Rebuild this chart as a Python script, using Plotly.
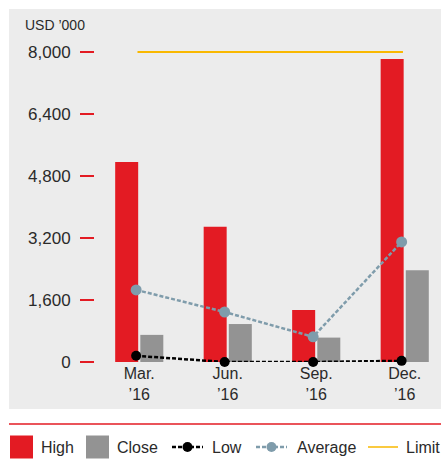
import plotly.graph_objects as go

# Quarterly share price data (USD '000)
quarters = ["Mar.<br>’16", "Jun.<br>’16", "Sep.<br>’16", "Dec.<br>’16"]
high = [5160, 3490, 1340, 7820]
close = [700, 980, 630, 2370]
low = [160, 0, 0, 30]
average = [1860, 1290, 650, 3100]
limit = [8000, 8000, 8000, 8000]
y_ticks = [0, 1600, 3200, 4800, 6400, 8000]

RED = "#e31b23"
GREY = "#939393"
BLUEGREY = "#7f9cab"
GOLD = "#f9b800"
TEXT = "#2a2a2a"
FONT = "Liberation Sans"

xs = list(range(len(quarters)))
xl = [x - 0.035 for x in xs]

fig = go.Figure()
fig.add_trace(go.Bar(x=xs, y=high, width=0.26, offset=-0.272, marker=dict(color=RED, line_width=0),
                     name="High", showlegend=False))
fig.add_trace(go.Bar(x=xs, y=close, width=0.26, offset=0.012, marker=dict(color=GREY, line_width=0),
                     name="Close", showlegend=False))
fig.add_trace(go.Scatter(x=[x - 0.02 for x in xs], y=limit, mode="lines",
                         line=dict(color=GOLD, width=2), name="Limit", showlegend=False))
fig.add_trace(go.Scatter(x=xl, y=average, mode="lines+markers",
                         line=dict(color=BLUEGREY, width=2.5, dash="4px,2px"),
                         marker=dict(color=BLUEGREY, size=11), name="Average",
                         showlegend=False, cliponaxis=False))
fig.add_trace(go.Scatter(x=xl, y=low, mode="lines+markers",
                         line=dict(color="black", width=2.5, dash="4px,2px"),
                         marker=dict(color="black", size=10), name="Low",
                         showlegend=False, cliponaxis=False))

# pixel geometry helpers (plot area: x 95..441, y 40..362)
L, R, T, B = 95, 0, 40, 101
W, H = 441, 463
pw, ph = W - L - R, H - T - B


def px(x):
    return (x - L) / pw


def py(y):
    return (H - B - y) / ph


shapes = [
    # grey panel behind the chart
    dict(type="rect", xref="paper", yref="paper", x0=px(9), x1=px(441), y0=py(409), y1=py(9),
         fillcolor="#ececec", line_width=0, layer="below"),
    # red rule above legend
    dict(type="line", xref="paper", yref="paper", x0=px(9), x1=px(441), y0=py(424), y1=py(424),
         line=dict(color=RED, width=1.5)),
]

annotations = [
    dict(text="USD ’000", xref="paper", yref="paper", x=px(23), y=py(25), xanchor="left",
         yanchor="middle", showarrow=False, font=dict(family=FONT, size=14, color=TEXT)),
]

# legend row
ly = 447
legend_items = [
    ("box", RED, 10, "High", 39),
    ("box", GREY, 86, "Close", 115),
    ("marker", "black", 172, "Low", 210),
    ("marker", BLUEGREY, 256, "Average", 295),
    ("line", GOLD, 368, "Limit", 404),
]
for kind, col, x0, label, tx in legend_items:
    if kind == "box":
        shapes.append(dict(type="rect", xref="paper", yref="paper", x0=px(x0), x1=px(x0 + 23),
                           y0=py(ly + 11.5), y1=py(ly - 11.5), fillcolor=col, line_width=0))
    elif kind == "marker":
        shapes.append(dict(type="line", xref="paper", yref="paper", x0=px(x0), x1=px(x0 + 31),
                           y0=py(ly), y1=py(ly), line=dict(color=col, width=2.5, dash="4px,2px")))
        shapes.append(dict(type="circle", xref="paper", yref="paper", x0=px(x0 + 10.5), x1=px(x0 + 20.5),
                           y0=py(ly + 5), y1=py(ly - 5), fillcolor=col, line_width=0))
    else:
        shapes.append(dict(type="line", xref="paper", yref="paper", x0=px(x0), x1=px(x0 + 30),
                           y0=py(ly), y1=py(ly), line=dict(color=col, width=1.5)))
    annotations.append(dict(text=label, xref="paper", yref="paper", x=px(tx), y=py(ly),
                            xanchor="left", yanchor="middle", showarrow=False,
                            font=dict(family=FONT, size=16, color=TEXT)))

fig.update_layout(
    width=W, height=H,
    margin=dict(l=L, r=R, t=T, b=B, pad=0),
    paper_bgcolor="white",
    plot_bgcolor="rgba(0,0,0,0)",
    showlegend=False,
    shapes=shapes,
    annotations=annotations,
    font=dict(family=FONT, color=TEXT),
)
fig.update_xaxes(
    range=[-0.5, 3.41], tickvals=xs, ticktext=quarters, showgrid=False, zeroline=False,
    showline=False, ticks="", tickfont=dict(size=16, color=TEXT, family=FONT),
)
fig.update_yaxes(
    range=[0, 8310], tickvals=y_ticks, ticktext=[f"{v:,}" for v in y_ticks],
    showgrid=False, zeroline=False, showline=False,
    ticks="outside", ticklen=14, tickwidth=1.5, tickcolor=RED,
    ticklabelstandoff=6,
    tickfont=dict(size=17, color=TEXT, family=FONT),
)

fig.write_html("out.html")
